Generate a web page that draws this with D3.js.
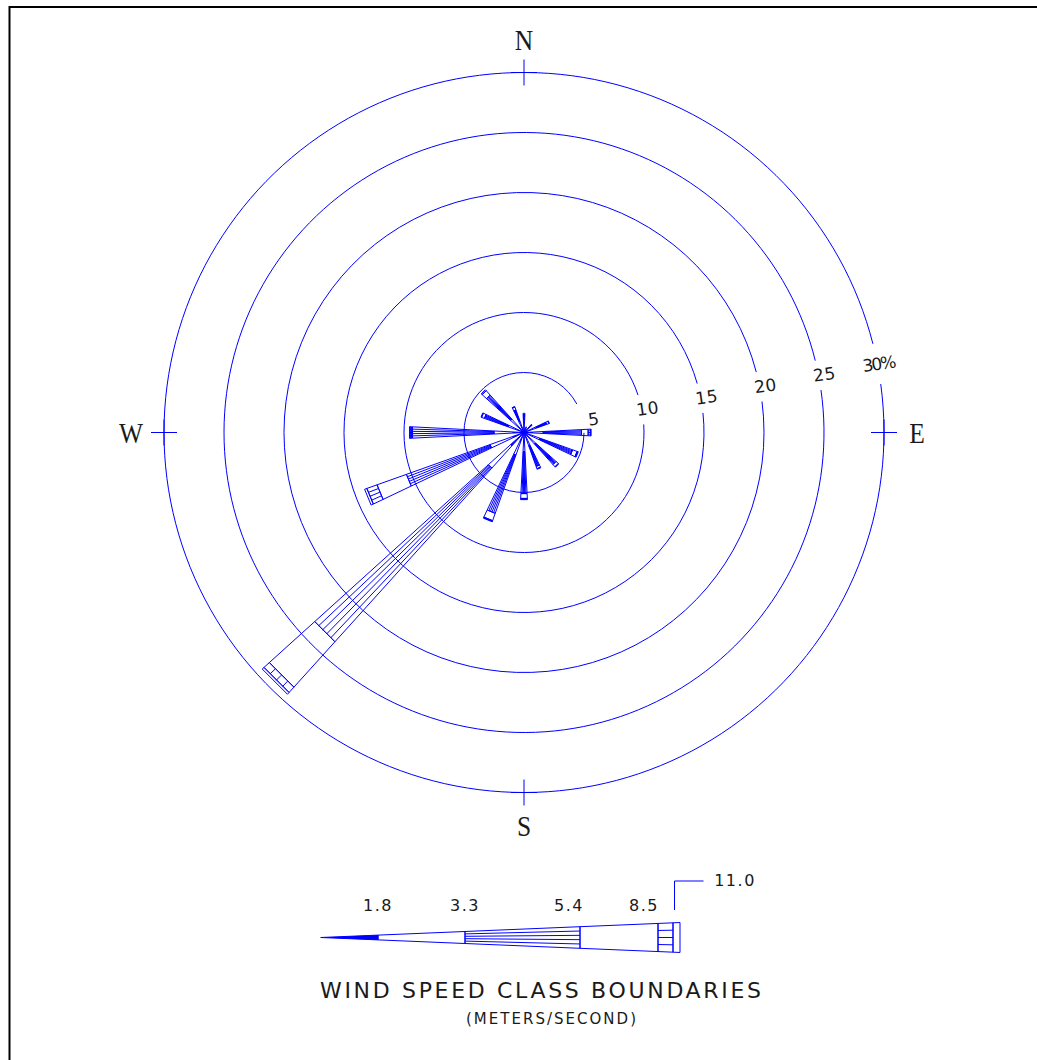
<!DOCTYPE html>
<html>
<head>
<meta charset="utf-8">
<script src="https://cdn.jsdelivr.net/npm/d3@7"></script>
<style>
  body { margin: 0; background: #fff; }
  svg { display: block; }
</style>
</head>
<body>
<div id="chart"></div>
<script>
// 16 compass points, clockwise from north
var directions = ['N','NNE','NE','ENE','E','ESE','SE','SSE','S','SSW','SW','WSW','W','WNW','NW','NNW'];

// frequency (%) of each wind speed class, per direction
var cls1 = [0.5, 0.3, 0.4, 0.5, 0.7, 0.6, 0.6, 0.5, 0.7, 0.8, 1.5, 1.0, 0.9, 0.6, 0.6, 0.5];
var cls2 = [0.5, 0.2, 0.3, 0.6, 0.9, 0.8, 0.7, 0.7, 0.9, 1.2, 2.5, 2.0, 1.6, 0.8, 0.9, 0.5];
var cls3 = [0.5, 0.0, 0.2, 0.9, 3.2, 2.9, 2.3, 1.8, 3.5, 5.15, 19.5, 7.4, 6.8, 2.1, 2.7, 1.0];
var cls4 = [0.1, 0.0, 0.0, 0.2, 0.55, 0.4, 0.25, 0.2, 0.4, 0.65, 5.1, 2.6, 0.1, 0.25, 0.5, 0.25];
var cls5 = [0.0, 0.0, 0.0, 0.05, 0.2, 0.05, 0.05, 0.05, 0.05, 0.05, 0.6, 0.9, 0.1, 0.05, 0.1, 0.05];
var cls6 = [0.0, 0.0, 0.0, 0.0, 0.05, 0.05, 0.0, 0.0, 0.05, 0.05, 0.2, 0.2, 0.05, 0.0, 0.0, 0.0];

// speed class boundaries (m/s)
var classBounds = [1.8, 3.3, 5.4, 8.5, 11.0];

// percent rings
var ringTicks = [5, 10, 15, 20, 25, 30];
var compass = ['N', 'E', 'S', 'W'];

var W = 1037, H = 1060;
var cx = 524, cy = 432.5;
var blue = '#0000ff';
var ink = '#1a1a1a';
var halfAng = 2.9 * Math.PI / 180; // half width of a petal

var svg = d3.select('#chart').append('svg')
  .attr('width', W)
  .attr('height', H);

// frame
svg.append('rect')
  .attr('x', 9.5).attr('y', 7)
  .attr('width', 1200).attr('height', 1200)
  .attr('fill', 'none')
  .attr('stroke', '#000')
  .attr('stroke-width', 2);

var r = d3.scaleLinear().domain([0, 30]).range([0, 360]);
var bearing = d3.scaleLinear().domain([0, directions.length]).range([0, 2 * Math.PI]);

function pt(rad, a) {
  return [cx + rad * Math.sin(a), cy - rad * Math.cos(a)];
}

// rings, broken where the label sits
var labelAng = -11 * Math.PI / 180; // svg angle, 11 deg above east
var rings = svg.append('g');
ringTicks.forEach(function(t, i) {
  var rad = r(t);
  var last = i == ringTicks.length - 1;
  var gapPx = last ? 41 : 30;
  var g = (gapPx / 2) / rad;
  var c = (i == 0) ? -14 * Math.PI / 180 : labelAng;
  var a0 = c + g, a1 = c - g + 2 * Math.PI;
  var p = d3.path();
  p.moveTo(cx + rad * Math.cos(a0), cy + rad * Math.sin(a0));
  p.arc(cx, cy, rad, a0, a1, false);
  rings.append('path')
    .attr('d', p.toString())
    .attr('fill', 'none')
    .attr('stroke', blue)
    .attr('stroke-width', 1);

  var lr = rad + (i == 0 ? 11 : (last ? 1 : 6));
  var lx = cx + lr * Math.cos(labelAng), ly = cy + lr * Math.sin(labelAng);
  rings.append('text')
    .attr('transform', 'translate(' + lx + ',' + ly + ') rotate(-8)')
    .attr('text-anchor', 'middle')
    .attr('dy', '0.36em')
    .attr('font-family', 'DejaVu Sans, sans-serif')
    .attr('font-size', 17)
    .attr('letter-spacing', last ? -2 : 0.5)
    .attr('fill', ink)
    .text(t + (last ? '%' : ''));
});

// compass ticks and letters
compass.forEach(function(c, i) {
  var a = i * Math.PI / 2;
  var p0 = pt(r(30), a);
  var perp = a + Math.PI / 2;
  var len = 13;
  svg.append('line')
    .attr('x1', p0[0] - len * Math.sin(a)).attr('y1', p0[1] + len * Math.cos(a))
    .attr('x2', p0[0] + len * Math.sin(a)).attr('y2', p0[1] - len * Math.cos(a))
    .attr('stroke', blue);
  svg.append('line')
    .attr('x1', p0[0] - len * Math.sin(perp)).attr('y1', p0[1] + len * Math.cos(perp))
    .attr('x2', p0[0] + len * Math.sin(perp)).attr('y2', p0[1] - len * Math.cos(perp))
    .attr('stroke', blue);
  var lp = pt(393, a);
  svg.append('text')
    .attr('transform', 'translate(' + lp[0] + ',' + lp[1] + ') scale(0.85,1)')
    .attr('text-anchor', 'middle')
    .attr('dy', '0.35em')
    .attr('font-family', 'Liberation Serif, serif')
    .attr('font-size', 30)
    .attr('fill', ink)
    .text(c);
});

// petals
var keys = ['c1', 'c2', 'c3', 'c4', 'c5', 'c6'];
var table = directions.map(function(d, i) {
  return { dir: d, c1: cls1[i], c2: cls2[i], c3: cls3[i], c4: cls4[i], c5: cls5[i], c6: cls6[i] };
});
var series = d3.stack().keys(keys)(table);
var hatchCount = [0, 0, 4, 0, 3, 0];
var line = d3.line().curve(d3.curveLinearClosed);

var petals = svg.append('g');
series.forEach(function(s, k) {
  s.forEach(function(seg, i) {
    if (seg[1] - seg[0] <= 0) return;
    var a = bearing(i);
    var r0 = r(seg[0]), r1 = r(seg[1]);
    petals.append('path')
      .attr('d', line([pt(r0, a - halfAng), pt(r1, a - halfAng), pt(r1, a + halfAng), pt(r0, a + halfAng)]))
      .attr('fill', k == 0 ? blue : 'none')
      .attr('stroke', blue)
      .attr('stroke-width', 1);
    var n = hatchCount[k];
    for (var j = 1; j <= n; j++) {
      var off = -halfAng + 2 * halfAng * j / (n + 1);
      var q0 = pt(r0, a + off), q1 = pt(r1, a + off);
      petals.append('line')
        .attr('x1', q0[0]).attr('y1', q0[1])
        .attr('x2', q1[0]).attr('y2', q1[1])
        .attr('stroke', blue)
        .attr('stroke-width', 1);
    }
  });
});

// legend wedge
var legX = d3.scaleLinear()
  .domain([0].concat(classBounds, [11.5]))
  .range([320.7, 378, 465, 580, 658, 673, 680]);
var legY = 937.5;
var legSlope = 15 / 360;
var legend = svg.append('g');
var stops = [0].concat(classBounds, [11.5]);
for (var k = 0; k < stops.length - 1; k++) {
  var x0 = legX(stops[k]), x1 = legX(stops[k + 1]);
  var h0 = (x0 - legX(0)) * legSlope, h1 = (x1 - legX(0)) * legSlope;
  legend.append('path')
    .attr('d', line([[x0, legY - h0], [x1, legY - h1], [x1, legY + h1], [x0, legY + h0]]))
    .attr('fill', k == 0 ? blue : 'none')
    .attr('stroke', blue)
    .attr('stroke-width', 1);
  var n = hatchCount[k];
  for (var j = 1; j <= n; j++) {
    var f = -1 + 2 * j / (n + 1);
    legend.append('line')
      .attr('x1', x0).attr('y1', legY + f * h0)
      .attr('x2', x1).attr('y2', legY + f * h1)
      .attr('stroke', blue)
      .attr('stroke-width', 1);
  }
}

// legend labels
var fmt = d3.format('.1f');
var labelShift = [0, 0, -11, -14];
classBounds.forEach(function(b, i) {
  var t = legend.append('text')
    .attr('text-anchor', 'middle')
    .attr('font-family', 'DejaVu Sans, sans-serif')
    .attr('font-size', 16)
    .attr('letter-spacing', 1.5)
    .attr('fill', ink)
    .text(fmt(b));
  if (i < classBounds.length - 1) {
    t.attr('x', legX(b) + labelShift[i]).attr('y', 911);
  } else {
    var lx = legX(b) + 1.5;
    legend.append('path')
      .attr('d', 'M' + lx + ',910V881H' + (lx + 29))
      .attr('fill', 'none')
      .attr('stroke', blue);
    t.attr('x', 735).attr('y', 886);
  }
});

svg.append('text')
  .attr('x', 320).attr('y', 998)
  .attr('textLength', 441)
  .attr('lengthAdjust', 'spacing')
  .attr('font-family', 'DejaVu Sans, sans-serif')
  .attr('font-size', 22)
  .attr('fill', ink)
  .text('WIND SPEED CLASS BOUNDARIES');

svg.append('text')
  .attr('x', 466).attr('y', 1024)
  .attr('textLength', 170)
  .attr('lengthAdjust', 'spacing')
  .attr('font-family', 'DejaVu Sans, sans-serif')
  .attr('font-size', 15)
  .attr('fill', ink)
  .text('(METERS/SECOND)');
</script>
</body>
</html>
